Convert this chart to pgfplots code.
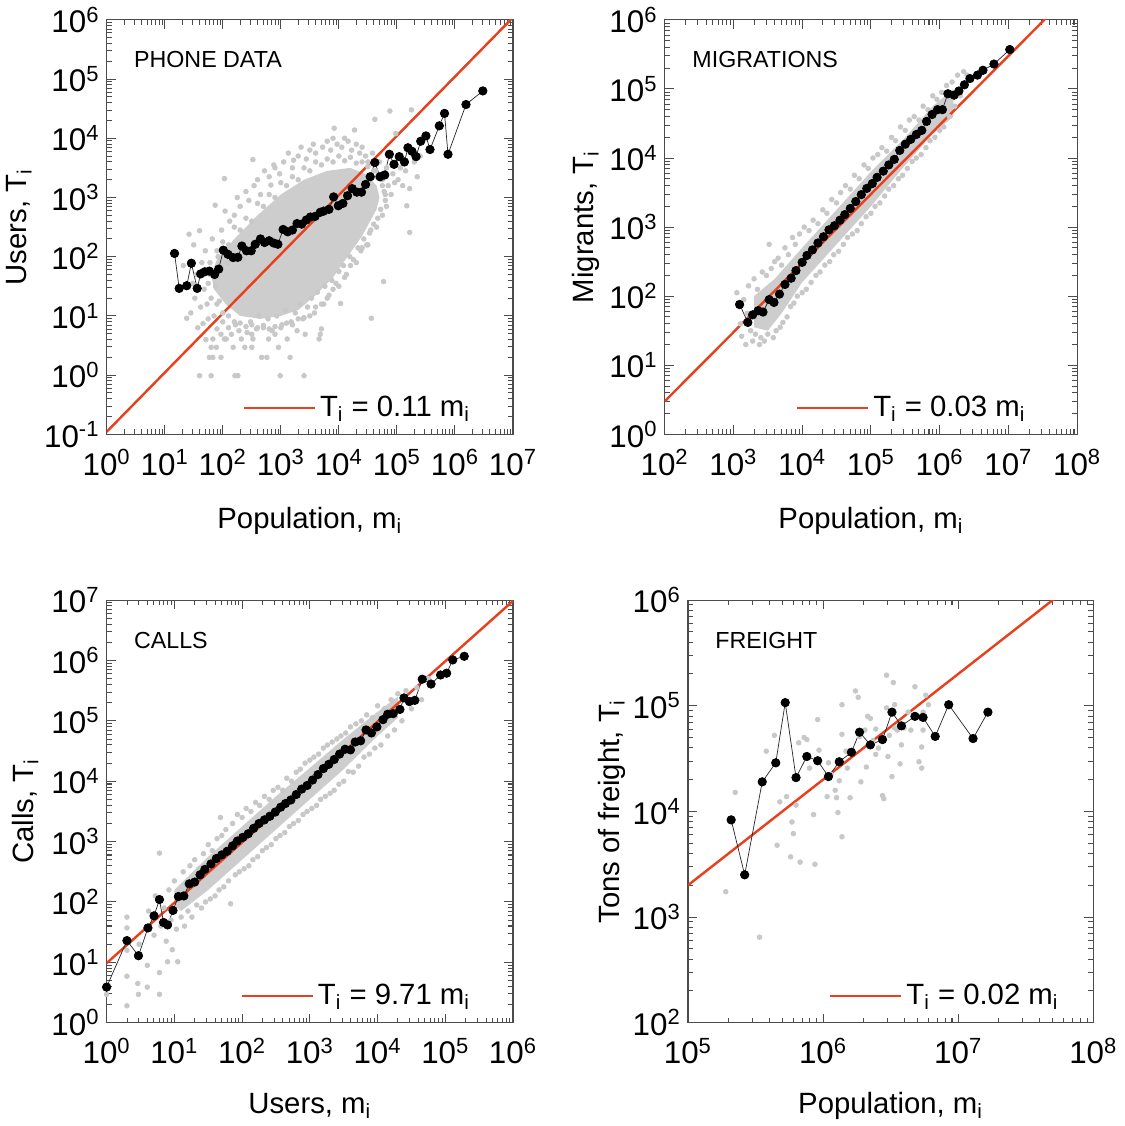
\documentclass[border=0pt]{standalone}
\usepackage{fontspec}
\setmainfont{Liberation Sans}
\usepackage{pgfplots}
\pgfplotsset{compat=1.18}

\definecolor{fitred}{HTML}{E8401C}
\definecolor{cloud}{HTML}{C8C8C8}
\definecolor{cloudfill}{HTML}{CDCDCD}

% axes are in log10 units; minor ticks at log10(2..9) of every decade
\def\minlist{}
\foreach \d in {-1,...,8}{\foreach \m in {0.30103,0.47712,0.60206,0.69897,0.77815,0.84510,0.90309,0.95424}{\pgfmathsetmacro\v{\d+\m}\xdef\minlist{\minlist\v,}}}
\xdef\minlist{\minlist 9.5}

\newcommand\p[1]{10\textsuperscript{#1}}
\newcommand\Ti{T\textsubscript{i}}
\newcommand\mi{m\textsubscript{i}}

\tikzset{tag/.style={anchor=west, font=\fontsize{11.5}{11.5}\selectfont}}

\pgfplotsset{
  panel/.style={
    scale only axis, anchor=south west,
    axis line style={black!70, line width=0.6pt},
    tick style={black!70, line width=0.5pt},
    major tick length=4.5pt, minor tick length=2.5pt,
    tick align=inside,
    minor xtick/.expanded={\minlist}, minor ytick/.expanded={\minlist},
    tick label style={font=\fontsize{15.5}{15.5}\selectfont},
    xticklabel style={yshift=-4pt},
    label style={font=\fontsize{14.5}{14.5}\selectfont},
    xlabel style={at={(axis description cs:0.5,0)}, anchor=center, yshift=-43pt},
    legend style={draw=none, fill=none, font=\fontsize{14.5}{14.5}\selectfont,
      anchor=south east, at={(axis description cs:0.92,0.015)}},
    legend image code/.code={\draw[#1, line width=1.2pt] (0pt,0pt) -- (35pt,0pt);},
  },
  core/.style={fill=cloudfill, draw=none, forget plot},
  gray dots/.style={only marks, mark=*, mark size=1.15pt, color=cloud, draw=cloud, fill=cloud,
    mark options={draw=cloud, fill=cloud}, forget plot},
  mean/.style={black!85, line width=0.35pt, mark=*, mark size=2.1pt, mark options={fill=black, draw=black}, forget plot},
  fit/.style={fitred, line width=1.2pt},
}

\begin{document}
\begin{tikzpicture}

% ---------------- PHONE DATA ----------------
\begin{axis}[panel, at={(60pt,-221.5pt)}, width=201pt, height=205pt,
  xmin=0, xmax=7, ymin=-1, ymax=6,
  xtick={0,...,7}, xticklabels={\p{0},\p{1},\p{2},\p{3},\p{4},\p{5},\p{6},\p{7}},
  ytick={-1,...,6}, yticklabels={\p{-1},\p{0},\p{1},\p{2},\p{3},\p{4},\p{5},\p{6}},
  xlabel={Population, \mi}, ylabel={Users, \Ti},
  ylabel style={at={(axis description cs:-0.215,0.5)}, anchor=center},
]
\addplot[core] coordinates {(1.9,1.95) (2.2,2.3) (2.6,2.7) (3.0,3.05) (3.4,3.3) (3.8,3.45) (4.2,3.5) (4.45,3.4) (4.65,3.2) (4.7,3.0)
  (4.65,2.8) (4.4,2.35) (4.15,2.0) (3.9,1.65) (3.6,1.35) (3.3,1.1) (3.0,1.0) (2.65,0.95) (2.3,1.0) (2.05,1.2) (1.85,1.45) (1.8,1.7)};
\addplot[gray dots] coordinates {
 (1.32,1.85) (1.38,0.96) (1.42,2.38) (1.45,1.05) (1.48,1.55) (1.5,2.2) (1.52,1.3) (1.55,1.7) (1.57,0.8) (1.6,2.44) (1.6,-0.01) (1.62,1.15) (1.64,1.9) (1.66,0.87) (1.68,1.45)
 (1.7,2.1) (1.71,0.6) (1.73,1.2) (1.75,0.95) (1.77,0.3) (1.78,1.7) (1.8,-0.01) (1.8,0.47) (1.82,2.3) (1.83,0.3) (1.83,0.61) (1.85,1.0) (1.87,2.87) (1.88,1.5) (1.89,0.47) (1.9,0.78) (1.92,2.0) (1.94,1.25) (1.97,0.3) (1.97,0.69) (1.98,2.45) (2.0,0.9)
 (2.03,3.32) (2.03,0.61) (2.04,2.77) (2.06,0.61) (2.08,1.9) (2.1,0.8) (2.12,2.6) (2.15,0.69) (2.18,0.47) (2.2,2.7) (2.21,-0.01) (2.22,0.85) (2.25,3.0) (2.26,-0.01) (2.28,0.75) (2.3,2.85) (2.32,0.61) (2.35,1.95) (2.38,0.47) (2.4,3.1) (2.42,0.72) (2.45,2.95) (2.48,0.9) (2.5,0.47) (2.5,0.69) (2.52,0.61) (2.52,3.64) (2.54,3.2)
 (2.58,0.78) (2.6,3.3) (2.62,1.0) (2.65,3.05) (2.67,0.3) (2.7,0.8) (2.72,3.45) (2.76,0.3) (2.78,0.95) (2.79,0.61) (2.8,3.35) (2.83,3.21) (2.85,0.75) (2.88,3.55) (2.9,0.69) (2.9,3.5) (2.93,1.0) (2.96,0.47) (2.98,3.4) (2.99,-0.01)
 (3.02,0.85) (3.05,3.6) (3.08,1.1) (3.11,0.61) (3.13,3.75) (3.16,0.3) (3.18,0.9) (3.2,3.5) (3.22,3.63) (3.25,1.05) (3.28,0.75) (3.3,3.7) (3.33,1.2) (3.35,3.85) (3.38,0.95) (3.4,-0.01) (3.42,0.69) (3.44,3.65) (3.46,1.15) (3.5,3.8)
 (3.53,1.3) (3.56,3.9) (3.58,1.05) (3.6,3.75) (3.63,1.4) (3.66,0.61) (3.68,0.69) (3.7,0.78) (3.72,3.85) (3.74,1.2) (3.76,1.5) (3.8,3.95) (3.83,1.35) (3.86,3.8) (3.88,1.6) (3.9,4.0) (3.92,4.17) (3.95,1.55) (3.97,3.9) (4.0,1.75)
 (4.03,1.21) (4.05,3.85) (4.08,1.85) (4.1,4.0) (4.13,1.7) (4.16,3.95) (4.19,2.0) (4.22,3.8) (4.25,1.95) (4.27,4.14) (4.3,3.9) (4.33,2.15) (4.36,3.75) (4.38,2.1) (4.4,3.85) (4.43,2.3) (4.46,3.7) (4.48,2.2) (4.5,3.6)
 (4.53,2.4) (4.56,0.96) (4.58,3.75) (4.6,2.55) (4.62,4.32) (4.64,3.45) (4.67,2.65) (4.7,3.6) (4.72,2.8) (4.75,3.3) (4.77,1.58) (4.78,3.1) (4.8,2.95) (4.82,3.5) (4.85,3.2) (4.88,4.46) (4.9,3.05) (4.93,3.4) (4.96,3.25) (4.98,4.08)
 (5.02,3.3) (5.06,3.5) (5.1,3.2) (5.15,3.45) (5.17,2.86) (5.22,3.15) (5.22,2.41) (5.25,4.48) (5.3,3.6) (5.35,3.35) (5.4,3.7)
 (1.9,2.1) (2.0,2.25) (2.1,2.2) (2.2,2.5) (2.3,2.45) (2.4,2.65) (2.5,2.6) (2.6,2.9) (2.7,2.85) (2.8,3.05) (2.9,3.0) (3.0,3.25) (3.1,3.2) (3.2,3.35) (3.3,3.3) (3.4,3.5)
 (3.5,3.45) (3.6,3.6) (3.7,3.55) (3.8,3.65) (3.9,3.6) (4.0,3.7) (4.1,3.62) (4.2,3.68) (4.3,3.58) (4.4,3.6) (4.5,3.52) (4.6,3.45) (4.65,3.35) (4.75,3.2) (4.8,3.05) (4.82,2.85)
 (4.75,2.7) (4.65,2.5) (4.55,2.45) (4.5,2.2) (4.4,2.15) (4.3,1.9) (4.2,1.85) (4.1,1.65) (4.0,1.5) (3.9,1.45) (3.8,1.3) (3.7,1.2) (3.6,1.15) (3.5,1.0) (3.4,0.97) (3.3,0.95)
 (3.2,0.85) (3.1,0.88) (3.0,0.8) (2.9,0.82) (2.8,0.78) (2.7,0.84) (2.6,0.8) (2.5,0.85) (2.4,0.82) (2.3,0.88) (2.2,0.9) (2.1,1.0) (2.0,1.05) (1.9,1.2) (1.8,1.3) (1.75,1.55)
 (1.72,1.75) (1.78,1.9)};
\addplot[fit] coordinates {(0,-0.9586) (7,6.0414)};
\addlegendentry{\Ti\ = 0.11 \mi}
\addplot[mean] coordinates {
 (1.17,2.055) (1.25,1.465) (1.38,1.51) (1.46,1.89) (1.56,1.465) (1.62,1.71) (1.69,1.745) (1.77,1.757) (1.86,1.70) (1.93,1.79)
 (2.01,2.11) (2.09,2.04) (2.18,1.985) (2.26,1.99) (2.33,2.18) (2.41,2.10) (2.49,2.10) (2.56,2.21) (2.65,2.30) (2.72,2.24)
 (2.80,2.27) (2.88,2.23) (2.95,2.21) (3.04,2.46) (3.12,2.42) (3.20,2.45) (3.28,2.56) (3.36,2.55) (3.44,2.62) (3.51,2.67)
 (3.59,2.68) (3.68,2.75) (3.74,2.77) (3.83,2.80) (3.91,3.01) (3.99,2.86) (4.07,2.90) (4.15,3.03) (4.23,3.15) (4.31,3.09)
 (4.39,3.09) (4.46,3.22) (4.54,3.35) (4.62,3.59) (4.71,3.35) (4.79,3.38) (4.87,3.73) (4.95,3.56) (5.04,3.69) (5.13,3.60)
 (5.19,3.84) (5.26,3.78) (5.33,3.69) (5.41,3.95) (5.50,4.04) (5.57,3.81) (5.73,4.21) (5.82,4.42) (5.88,3.73) (6.19,4.57) (6.48,4.80)};
\node[tag] at (axis description cs:0.05,0.905) {PHONE DATA};
\end{axis}

% ---------------- MIGRATIONS ----------------
\begin{axis}[panel, at={(336pt,-221.5pt)}, width=204pt, height=205pt,
  xmin=2, xmax=8, ymin=0, ymax=6,
  xtick={2,...,8}, xticklabels={\p{2},\p{3},\p{4},\p{5},\p{6},\p{7},\p{8}},
  ytick={0,...,6}, yticklabels={\p{0},\p{1},\p{2},\p{3},\p{4},\p{5},\p{6}},
  xlabel={Population, \mi}, ylabel={Migrants, \Ti},
  ylabel style={at={(axis description cs:-0.19,0.5)}, anchor=center},
  legend style={at={(axis description cs:0.9,0.015)}},
]
\addplot[core] coordinates {(3.3,2.0) (3.6,2.25) (4.0,2.7) (4.5,3.25) (5.0,3.8) (5.5,4.3) (5.9,4.75) (6.2,5.0)
  (6.2,4.6) (5.9,4.35) (5.5,3.9) (5.0,3.3) (4.5,2.75) (4.0,2.2) (3.7,1.75) (3.5,1.5) (3.3,1.55)};
\addplot[gray dots] coordinates {
 (3.05,2.05) (3.08,1.85) (3.1,1.6) (3.12,1.42) (3.15,1.95) (3.18,1.3) (3.2,1.75) (3.22,2.15) (3.25,1.5) (3.28,1.35) (3.3,2.25) (3.32,1.45) (3.35,2.1) (3.38,1.3) (3.4,1.4)
 (3.42,2.35) (3.45,1.35) (3.48,2.3) (3.5,1.45) (3.52,2.75) (3.55,2.4) (3.58,1.4) (3.6,2.5) (3.62,1.5) (3.65,2.55) (3.68,1.55) (3.7,2.45) (3.72,1.62) (3.75,2.7) (3.78,1.7)
 (3.8,2.6) (3.83,1.85) (3.86,2.85) (3.88,1.9) (3.9,2.75) (3.93,2.0) (3.96,2.9) (4.0,2.05) (4.03,3.0) (4.06,2.1) (4.1,2.95) (4.13,2.2) (4.16,3.1) (4.2,2.3) (4.23,3.05)
 (4.26,2.35) (4.3,3.25) (4.33,2.45) (4.36,3.2) (4.4,2.5) (4.43,3.4) (4.46,2.6) (4.5,3.35) (4.53,2.65) (4.56,3.5) (4.6,2.75) (4.63,3.6) (4.66,2.85) (4.7,3.55) (4.73,2.9)
 (4.76,3.75) (4.8,2.95) (4.83,3.7) (4.86,3.05) (4.9,3.9) (4.93,3.15) (4.96,3.85) (5.0,3.2) (5.03,4.0) (5.06,3.3) (5.1,4.05) (5.13,3.35) (5.16,4.15) (5.2,3.45) (5.23,4.1)
 (5.26,3.55) (5.3,4.3) (5.33,3.6) (5.36,4.25) (5.4,3.7) (5.43,4.45) (5.46,3.75) (5.5,4.4) (5.53,3.85) (5.56,4.55) (5.6,3.95) (5.63,4.6) (5.66,4.0) (5.7,4.55) (5.73,4.05)
 (5.76,4.75) (5.8,4.15) (5.83,4.7) (5.86,4.25) (5.9,4.9) (5.93,4.3) (5.96,4.85) (6.0,4.4) (6.03,4.95) (6.06,4.45) (6.1,5.05) (6.14,4.6) (6.18,5.1) (6.22,4.75) (6.26,5.2)
 (6.3,4.9) (6.35,5.25) (6.4,5.2)};
\addplot[fit] coordinates {(2,0.4771) (8,6.4771)};
\addlegendentry{\Ti\ = 0.03 \mi}
\addplot[mean] coordinates {
 (3.09,1.88) (3.21,1.62) (3.28,1.73) (3.36,1.79) (3.43,1.77) (3.52,1.95) (3.59,1.91) (3.67,2.03) (3.75,2.17) (3.84,2.26)
 (3.91,2.37) (4.00,2.49) (4.07,2.59) (4.15,2.67) (4.23,2.77) (4.31,2.86) (4.39,2.96) (4.47,3.02) (4.55,3.10) (4.62,3.18)
 (4.70,3.27) (4.78,3.37) (4.86,3.47) (4.94,3.56) (5.02,3.63) (5.09,3.72) (5.18,3.81) (5.26,3.90) (5.34,3.98) (5.42,4.11)
 (5.50,4.20) (5.58,4.27) (5.66,4.34) (5.74,4.40) (5.81,4.53) (5.89,4.63) (5.97,4.70) (6.04,4.70) (6.12,4.93) (6.21,4.91)
 (6.28,4.97) (6.36,5.06) (6.44,5.15) (6.55,5.20) (6.63,5.27) (6.79,5.36) (7.02,5.57)};
\node[tag] at (axis description cs:0.05,0.905) {MIGRATIONS};
\end{axis}

% ---------------- CALLS ----------------
\begin{axis}[panel, at={(60pt,-512.5pt)}, width=201pt, height=209pt,
  xmin=0, xmax=6, ymin=0, ymax=7,
  xtick={0,...,6}, xticklabels={\p{0},\p{1},\p{2},\p{3},\p{4},\p{5},\p{6}},
  ytick={0,...,7}, yticklabels={\p{0},\p{1},\p{2},\p{3},\p{4},\p{5},\p{6},\p{7}},
  xlabel={Users, \mi}, ylabel={Calls, \Ti},
  xlabel style={yshift=2pt},
  ylabel style={at={(axis description cs:-0.2,0.5)}, anchor=center},
]
\addplot[core] coordinates {(1.0,2.2) (1.5,2.75) (2.0,3.25) (2.5,3.75) (3.0,4.22) (3.5,4.7) (4.0,5.15) (4.3,5.4)
  (4.3,5.05) (4.0,4.75) (3.5,4.2) (3.0,3.7) (2.5,3.2) (2.0,2.7) (1.5,2.2) (1.1,1.85) (1.0,1.95)};
\addplot[gray dots] coordinates {
 (0.0,0.47) (0.3,1.75) (0.3,0.77) (0.3,0.28) (0.3,1.57) (0.3,1.2) (0.46,0.65) (0.47,0.47) (0.48,1.3) (0.6,0.59) (0.6,0.95) (0.62,1.85) (0.7,1.45) (0.72,2.1) (0.78,2.81)
 (0.78,0.83) (0.78,0.47) (0.8,1.6) (0.85,1.9) (0.88,1.35) (0.9,1.01) (0.92,2.2) (0.95,1.7) (0.97,1.21) (1.0,2.35) (1.03,1.55) (1.05,1.01) (1.08,2.05) (1.1,1.75) (1.13,2.5)
 (1.15,1.6) (1.18,2.3) (1.2,1.85) (1.23,2.6) (1.26,1.75) (1.3,2.7) (1.33,1.95) (1.36,2.55) (1.4,1.9) (1.43,2.8) (1.46,2.0) (1.5,2.95) (1.53,2.05) (1.56,2.85) (1.6,2.1)
 (1.63,3.05) (1.66,2.2) (1.68,3.4) (1.7,3.1) (1.73,2.25) (1.76,3.2) (1.8,2.35) (1.83,1.97) (1.86,3.3) (1.9,2.45) (1.93,3.45) (1.96,2.5) (2.0,3.4) (2.03,2.55) (2.06,3.55)
 (2.1,2.6) (2.13,3.5) (2.16,2.7) (2.2,3.65) (2.23,2.75) (2.26,3.6) (2.3,2.85) (2.33,3.75) (2.36,2.9) (2.4,3.7) (2.43,2.95) (2.46,3.85) (2.5,3.05) (2.53,3.9) (2.56,3.1)
 (2.6,3.85) (2.63,3.15) (2.66,4.05) (2.7,3.25) (2.73,4.0) (2.76,3.3) (2.8,4.15) (2.83,3.35) (2.86,4.2) (2.9,3.45) (2.93,4.3) (2.96,3.5) (3.0,4.35) (3.03,3.55) (3.06,4.4)
 (3.1,3.6) (3.13,4.45) (3.16,3.7) (3.2,4.55) (3.23,3.75) (3.26,4.6) (3.3,3.8) (3.33,4.65) (3.36,3.85) (3.4,4.7) (3.43,3.95) (3.46,4.75) (3.5,4.0) (3.53,4.8) (3.57,4.16)
 (3.6,4.9) (3.64,4.15) (3.68,4.95) (3.72,4.25) (3.76,5.0) (3.8,4.4) (3.84,5.1) (3.88,4.45) (3.92,5.05) (3.96,4.55) (4.0,5.25) (4.05,4.6) (4.1,5.2) (4.15,4.75) (4.2,5.35)
 (4.25,4.85) (4.3,5.45) (4.36,5.0) (4.42,5.5) (4.5,5.2) (4.58,5.55) (4.65,5.35) (4.75,5.7)};
\addplot[fit] coordinates {(0,0.9872) (6,6.9872)};
\addlegendentry{\Ti\ = 9.71 \mi}
\addplot[mean] coordinates {
 (0.00,0.59) (0.30,1.36) (0.47,1.11) (0.61,1.57) (0.70,1.77) (0.78,2.04) (0.84,1.66) (0.90,1.62) (0.98,1.86) (1.06,2.09)
 (1.14,2.10) (1.22,2.30) (1.30,2.33) (1.38,2.45) (1.45,2.54) (1.54,2.63) (1.62,2.72) (1.70,2.78) (1.78,2.84) (1.86,2.93)
 (1.93,3.01) (2.01,3.07) (2.09,3.13) (2.17,3.22) (2.25,3.30) (2.33,3.36) (2.41,3.42) (2.49,3.49) (2.57,3.57) (2.64,3.63)
 (2.72,3.69) (2.80,3.78) (2.88,3.87) (2.96,3.93) (3.04,4.02) (3.12,4.11) (3.20,4.21) (3.28,4.28) (3.36,4.36) (3.44,4.45)
 (3.52,4.53) (3.60,4.52) (3.67,4.65) (3.75,4.67) (3.83,4.85) (3.91,4.80) (3.99,4.90) (4.08,5.02) (4.15,5.11) (4.23,5.12)
 (4.33,5.19) (4.39,5.38) (4.47,5.32) (4.55,5.34) (4.66,5.69) (4.79,5.61) (4.93,5.76) (5.02,5.79) (5.11,6.01) (5.28,6.07)};
\node[tag] at (axis description cs:0.05,0.904) {CALLS};
\end{axis}

% ---------------- FREIGHT ----------------
\begin{axis}[panel, at={(347.5pt,-512.5pt)}, width=200.5pt, height=209pt,
  xmin=5, xmax=8, ymin=2, ymax=6,
  xtick={5,...,8}, xticklabels={\p{5},\p{6},\p{7},\p{8}},
  ytick={2,...,6}, yticklabels={\p{2},\p{3},\p{4},\p{5},\p{6}},
  xlabel={Population, \mi}, ylabel={Tons of freight, \Ti},
  xlabel style={yshift=2pt},
  ylabel style={at={(axis description cs:-0.187,0.5)}, anchor=center},
  legend style={at={(axis description cs:0.94,0.015)}},
]
\addplot[gray dots] coordinates {
 (5.28,3.24) (5.35,4.18) (5.53,2.81) (5.58,4.57) (5.64,4.72) (5.66,3.68) (5.68,4.09) (5.73,4.14) (5.76,3.57) (5.77,3.90)
 (5.78,3.79) (5.80,4.06) (5.83,3.52) (5.82,4.65) (5.86,4.70) (5.88,4.68) (5.90,4.41) (5.93,3.97) (5.94,3.50) (5.96,4.87)
 (5.97,4.58) (6.03,4.14) (6.04,4.46) (6.06,4.35) (6.09,4.20) (6.10,4.13) (6.11,3.99) (6.12,4.29) (6.14,5.01) (6.14,4.73)
 (6.14,3.76) (6.17,4.57) (6.18,4.41) (6.20,4.13) (6.24,5.14) (6.26,5.08) (6.27,4.71) (6.28,4.28) (6.31,4.77) (6.32,4.42)
 (6.33,4.90) (6.35,4.88) (6.37,4.67) (6.39,4.54) (6.39,4.78) (6.41,4.60) (6.44,4.15) (6.45,4.12) (6.47,4.98) (6.47,5.29)
 (6.48,4.52) (6.49,4.72) (6.51,4.33) (6.52,5.22) (6.53,4.79) (6.53,5.01) (6.55,4.77) (6.57,4.45) (6.58,4.63) (6.60,4.79)
 (6.63,4.94) (6.65,4.77) (6.68,5.18) (6.71,4.47) (6.73,4.61) (6.73,4.41) (6.74,4.94) (6.76,5.10) (6.78,5.01) (6.74,4.77)};
\addplot[fit] coordinates {(5,3.301) (8,6.301)};
\addlegendentry{\Ti\ = 0.02 \mi}
\addplot[mean] coordinates {
 (5.32,3.92) (5.42,3.40) (5.55,4.28) (5.65,4.46) (5.72,5.03) (5.80,4.32) (5.88,4.52) (5.96,4.48) (6.04,4.33) (6.12,4.47)
 (6.21,4.56) (6.27,4.75) (6.35,4.63) (6.44,4.68) (6.51,4.94) (6.58,4.81) (6.68,4.90) (6.74,4.89) (6.83,4.71) (6.93,5.01)
 (7.11,4.69) (7.22,4.94)};
\node[tag] at (axis description cs:0.05,0.904) {FREIGHT};
\end{axis}

\end{tikzpicture}
\end{document}
